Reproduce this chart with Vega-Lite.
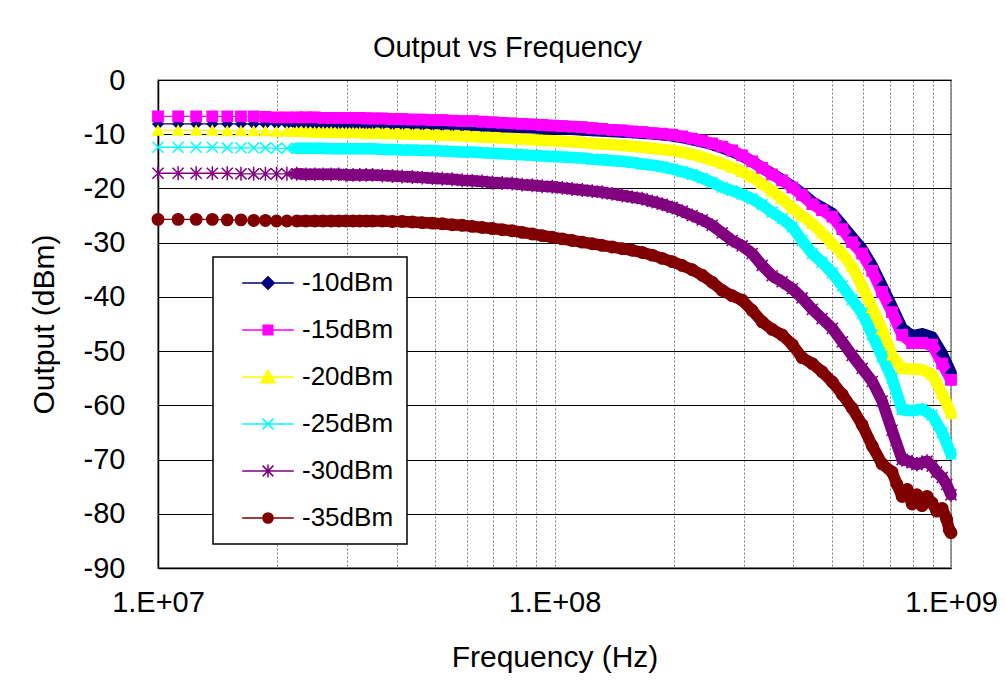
{
"$schema": "https://vega.github.io/schema/vega-lite/v6.json",
"width": 793, "height": 488,
"autosize": {"type": "none"},
"padding": {"left": 158, "top": 80, "right": 54, "bottom": 113},
"background": "white",
"title": {"text": "Output vs Frequency", "fontSize": 29, "fontWeight": "normal", "font": "Liberation Sans", "color": "black", "anchor": "middle", "frame": "group", "dx": -47, "offset": -20, "baseline": "alphabetic"},
"data": {"values": [
{"f":1e7,"s":"-10dBm","v":-8.1},{"f":1.124e7,"s":"-10dBm","v":-8.1},{"f":1.248e7,"s":"-10dBm","v":-8.1},{"f":1.371e7,"s":"-10dBm","v":-8.1},{"f":1.495e7,"s":"-10dBm","v":-8.1},{"f":1.619e7,"s":"-10dBm","v":-8.1},{"f":1.743e7,"s":"-10dBm","v":-8.1},{"f":1.866e7,"s":"-10dBm","v":-8.1},{"f":1.99e7,"s":"-10dBm","v":-8.1},{"f":2.114e7,"s":"-10dBm","v":-8.1},{"f":2.238e7,"s":"-10dBm","v":-8.1},{"f":2.361e7,"s":"-10dBm","v":-8.2},{"f":2.485e7,"s":"-10dBm","v":-8.2},{"f":2.609e7,"s":"-10dBm","v":-8.2},{"f":2.733e7,"s":"-10dBm","v":-8.2},{"f":2.856e7,"s":"-10dBm","v":-8.2},{"f":2.98e7,"s":"-10dBm","v":-8.2},{"f":3.104e7,"s":"-10dBm","v":-8.2},{"f":3.228e7,"s":"-10dBm","v":-8.2},{"f":3.351e7,"s":"-10dBm","v":-8.2},{"f":3.475e7,"s":"-10dBm","v":-8.2},
{"f":3.68e7,"s":"-10dBm","v":-8.2},{"f":3.9e7,"s":"-10dBm","v":-8.3},{"f":4.13e7,"s":"-10dBm","v":-8.3},{"f":4.38e7,"s":"-10dBm","v":-8.3},{"f":4.64e7,"s":"-10dBm","v":-8.4},{"f":4.92e7,"s":"-10dBm","v":-8.4},{"f":5.21e7,"s":"-10dBm","v":-8.4},{"f":5.52e7,"s":"-10dBm","v":-8.5},{"f":5.85e7,"s":"-10dBm","v":-8.5},{"f":6.2e7,"s":"-10dBm","v":-8.5},{"f":6.57e7,"s":"-10dBm","v":-8.6},{"f":6.97e7,"s":"-10dBm","v":-8.6},{"f":7.38e7,"s":"-10dBm","v":-8.7},{"f":7.82e7,"s":"-10dBm","v":-8.7},{"f":8.29e7,"s":"-10dBm","v":-8.8},{"f":8.79e7,"s":"-10dBm","v":-8.8},{"f":9.31e7,"s":"-10dBm","v":-8.9},{"f":9.87e7,"s":"-10dBm","v":-9.0},
{"f":1.046e8,"s":"-10dBm","v":-9.0},{"f":1.108e8,"s":"-10dBm","v":-9.1},{"f":1.175e8,"s":"-10dBm","v":-9.2},{"f":1.245e8,"s":"-10dBm","v":-9.3},{"f":1.319e8,"s":"-10dBm","v":-9.4},{"f":1.398e8,"s":"-10dBm","v":-9.5},{"f":1.482e8,"s":"-10dBm","v":-9.6},{"f":1.57e8,"s":"-10dBm","v":-9.7},{"f":1.664e8,"s":"-10dBm","v":-9.8},{"f":1.764e8,"s":"-10dBm","v":-9.9},{"f":1.869e8,"s":"-10dBm","v":-10.1},{"f":1.981e8,"s":"-10dBm","v":-10.3},{"f":2.099e8,"s":"-10dBm","v":-10.6},{"f":2.225e8,"s":"-10dBm","v":-11.0},{"f":2.358e8,"s":"-10dBm","v":-11.4},{"f":2.499e8,"s":"-10dBm","v":-11.9},{"f":2.648e8,"s":"-10dBm","v":-12.5},{"f":2.806e8,"s":"-10dBm","v":-13.2},{"f":2.974e8,"s":"-10dBm","v":-14.0},{"f":3.152e8,"s":"-10dBm","v":-15.0},{"f":3.34e8,"s":"-10dBm","v":-16.2},{"f":3.54e8,"s":"-10dBm","v":-17.3},{"f":3.75e8,"s":"-10dBm","v":-18.4},{"f":3.98e8,"s":"-10dBm","v":-19.6},{"f":4.21e8,"s":"-10dBm","v":-20.9},{"f":4.47e8,"s":"-10dBm","v":-22.5},{"f":4.73e8,"s":"-10dBm","v":-23.5},{"f":5.02e8,"s":"-10dBm","v":-24.6},{"f":5.32e8,"s":"-10dBm","v":-26.8},{"f":5.63e8,"s":"-10dBm","v":-29.0},{"f":5.97e8,"s":"-10dBm","v":-31.2},{"f":6.33e8,"s":"-10dBm","v":-34.3},{"f":6.7e8,"s":"-10dBm","v":-38.0},{"f":7.1e8,"s":"-10dBm","v":-41.8},{"f":7.53e8,"s":"-10dBm","v":-45.8},{"f":7.98e8,"s":"-10dBm","v":-47.2},{"f":8.45e8,"s":"-10dBm","v":-46.8},{"f":8.96e8,"s":"-10dBm","v":-47.4},{"f":9.5e8,"s":"-10dBm","v":-50.5},{"f":1e9,"s":"-10dBm","v":-54.0},

{"f":1e7,"s":"-15dBm","v":-6.7},{"f":1.124e7,"s":"-15dBm","v":-6.7},{"f":1.248e7,"s":"-15dBm","v":-6.7},{"f":1.371e7,"s":"-15dBm","v":-6.7},{"f":1.495e7,"s":"-15dBm","v":-6.7},{"f":1.619e7,"s":"-15dBm","v":-6.7},{"f":1.743e7,"s":"-15dBm","v":-6.7},{"f":1.866e7,"s":"-15dBm","v":-6.8},{"f":1.99e7,"s":"-15dBm","v":-6.9},{"f":2.114e7,"s":"-15dBm","v":-6.9},{"f":2.238e7,"s":"-15dBm","v":-6.9},{"f":2.361e7,"s":"-15dBm","v":-6.9},{"f":2.485e7,"s":"-15dBm","v":-6.9},{"f":2.609e7,"s":"-15dBm","v":-7.0},{"f":2.733e7,"s":"-15dBm","v":-7.0},{"f":2.856e7,"s":"-15dBm","v":-7.0},{"f":2.98e7,"s":"-15dBm","v":-7.0},{"f":3.104e7,"s":"-15dBm","v":-7.0},{"f":3.228e7,"s":"-15dBm","v":-7.0},{"f":3.351e7,"s":"-15dBm","v":-7.1},{"f":3.475e7,"s":"-15dBm","v":-7.1},
{"f":3.68e7,"s":"-15dBm","v":-7.1},{"f":3.9e7,"s":"-15dBm","v":-7.2},{"f":4.13e7,"s":"-15dBm","v":-7.2},{"f":4.38e7,"s":"-15dBm","v":-7.3},{"f":4.64e7,"s":"-15dBm","v":-7.3},{"f":4.92e7,"s":"-15dBm","v":-7.4},{"f":5.21e7,"s":"-15dBm","v":-7.4},{"f":5.52e7,"s":"-15dBm","v":-7.5},{"f":5.85e7,"s":"-15dBm","v":-7.6},{"f":6.2e7,"s":"-15dBm","v":-7.6},{"f":6.57e7,"s":"-15dBm","v":-7.7},{"f":6.97e7,"s":"-15dBm","v":-7.8},{"f":7.38e7,"s":"-15dBm","v":-7.9},{"f":7.82e7,"s":"-15dBm","v":-8.0},{"f":8.29e7,"s":"-15dBm","v":-8.1},{"f":8.79e7,"s":"-15dBm","v":-8.2},{"f":9.31e7,"s":"-15dBm","v":-8.3},{"f":9.87e7,"s":"-15dBm","v":-8.4},
{"f":1.046e8,"s":"-15dBm","v":-8.5},{"f":1.108e8,"s":"-15dBm","v":-8.6},{"f":1.175e8,"s":"-15dBm","v":-8.7},{"f":1.245e8,"s":"-15dBm","v":-8.9},{"f":1.319e8,"s":"-15dBm","v":-9.0},{"f":1.398e8,"s":"-15dBm","v":-9.2},{"f":1.482e8,"s":"-15dBm","v":-9.3},{"f":1.57e8,"s":"-15dBm","v":-9.5},{"f":1.664e8,"s":"-15dBm","v":-9.6},{"f":1.764e8,"s":"-15dBm","v":-9.8},{"f":1.869e8,"s":"-15dBm","v":-9.9},{"f":1.981e8,"s":"-15dBm","v":-10.1},{"f":2.099e8,"s":"-15dBm","v":-10.4},{"f":2.225e8,"s":"-15dBm","v":-10.8},{"f":2.358e8,"s":"-15dBm","v":-11.2},{"f":2.499e8,"s":"-15dBm","v":-11.7},{"f":2.648e8,"s":"-15dBm","v":-12.3},{"f":2.806e8,"s":"-15dBm","v":-13.0},{"f":2.974e8,"s":"-15dBm","v":-13.9},{"f":3.152e8,"s":"-15dBm","v":-15.0},{"f":3.34e8,"s":"-15dBm","v":-16.2},{"f":3.54e8,"s":"-15dBm","v":-17.4},{"f":3.75e8,"s":"-15dBm","v":-18.5},{"f":3.98e8,"s":"-15dBm","v":-19.8},{"f":4.21e8,"s":"-15dBm","v":-21.2},{"f":4.47e8,"s":"-15dBm","v":-22.9},{"f":4.73e8,"s":"-15dBm","v":-24.0},{"f":5.02e8,"s":"-15dBm","v":-25.2},{"f":5.32e8,"s":"-15dBm","v":-27.5},{"f":5.63e8,"s":"-15dBm","v":-29.9},{"f":5.97e8,"s":"-15dBm","v":-32.0},{"f":6.33e8,"s":"-15dBm","v":-35.2},{"f":6.7e8,"s":"-15dBm","v":-39.1},{"f":7.1e8,"s":"-15dBm","v":-42.8},{"f":7.53e8,"s":"-15dBm","v":-47.0},{"f":7.98e8,"s":"-15dBm","v":-48.5},{"f":8.45e8,"s":"-15dBm","v":-48.5},{"f":8.96e8,"s":"-15dBm","v":-48.8},{"f":9.5e8,"s":"-15dBm","v":-52.3},{"f":1e9,"s":"-15dBm","v":-55.3},

{"f":1e7,"s":"-20dBm","v":-9.3},{"f":1.124e7,"s":"-20dBm","v":-9.3},{"f":1.248e7,"s":"-20dBm","v":-9.3},{"f":1.371e7,"s":"-20dBm","v":-9.3},{"f":1.495e7,"s":"-20dBm","v":-9.4},{"f":1.619e7,"s":"-20dBm","v":-9.4},{"f":1.743e7,"s":"-20dBm","v":-9.4},{"f":1.866e7,"s":"-20dBm","v":-9.4},{"f":1.99e7,"s":"-20dBm","v":-9.5},{"f":2.114e7,"s":"-20dBm","v":-9.5},{"f":2.238e7,"s":"-20dBm","v":-9.5},{"f":2.361e7,"s":"-20dBm","v":-9.5},{"f":2.485e7,"s":"-20dBm","v":-9.6},{"f":2.609e7,"s":"-20dBm","v":-9.6},{"f":2.733e7,"s":"-20dBm","v":-9.6},{"f":2.856e7,"s":"-20dBm","v":-9.7},{"f":2.98e7,"s":"-20dBm","v":-9.7},{"f":3.104e7,"s":"-20dBm","v":-9.7},{"f":3.228e7,"s":"-20dBm","v":-9.7},{"f":3.351e7,"s":"-20dBm","v":-9.8},{"f":3.475e7,"s":"-20dBm","v":-9.8},
{"f":3.68e7,"s":"-20dBm","v":-9.8},{"f":3.9e7,"s":"-20dBm","v":-9.9},{"f":4.13e7,"s":"-20dBm","v":-9.9},{"f":4.38e7,"s":"-20dBm","v":-10.0},{"f":4.64e7,"s":"-20dBm","v":-10.0},{"f":4.92e7,"s":"-20dBm","v":-10.1},{"f":5.21e7,"s":"-20dBm","v":-10.2},{"f":5.52e7,"s":"-20dBm","v":-10.2},{"f":5.85e7,"s":"-20dBm","v":-10.3},{"f":6.2e7,"s":"-20dBm","v":-10.4},{"f":6.57e7,"s":"-20dBm","v":-10.5},{"f":6.97e7,"s":"-20dBm","v":-10.6},{"f":7.38e7,"s":"-20dBm","v":-10.7},{"f":7.82e7,"s":"-20dBm","v":-10.8},{"f":8.29e7,"s":"-20dBm","v":-10.9},{"f":8.79e7,"s":"-20dBm","v":-11.0},{"f":9.31e7,"s":"-20dBm","v":-11.1},{"f":9.87e7,"s":"-20dBm","v":-11.2},
{"f":1.046e8,"s":"-20dBm","v":-11.3},{"f":1.108e8,"s":"-20dBm","v":-11.4},{"f":1.175e8,"s":"-20dBm","v":-11.5},{"f":1.245e8,"s":"-20dBm","v":-11.7},{"f":1.319e8,"s":"-20dBm","v":-11.8},{"f":1.398e8,"s":"-20dBm","v":-11.9},{"f":1.482e8,"s":"-20dBm","v":-12.1},{"f":1.57e8,"s":"-20dBm","v":-12.2},{"f":1.664e8,"s":"-20dBm","v":-12.4},{"f":1.764e8,"s":"-20dBm","v":-12.6},{"f":1.869e8,"s":"-20dBm","v":-12.8},{"f":1.981e8,"s":"-20dBm","v":-13.0},{"f":2.099e8,"s":"-20dBm","v":-13.3},{"f":2.225e8,"s":"-20dBm","v":-13.7},{"f":2.358e8,"s":"-20dBm","v":-14.2},{"f":2.499e8,"s":"-20dBm","v":-14.8},{"f":2.648e8,"s":"-20dBm","v":-15.4},{"f":2.806e8,"s":"-20dBm","v":-16.1},{"f":2.974e8,"s":"-20dBm","v":-16.9},{"f":3.152e8,"s":"-20dBm","v":-17.9},{"f":3.34e8,"s":"-20dBm","v":-19.1},{"f":3.54e8,"s":"-20dBm","v":-20.5},{"f":3.75e8,"s":"-20dBm","v":-21.9},{"f":3.98e8,"s":"-20dBm","v":-23.6},{"f":4.21e8,"s":"-20dBm","v":-25.0},{"f":4.47e8,"s":"-20dBm","v":-26.5},{"f":4.73e8,"s":"-20dBm","v":-28.2},{"f":5.02e8,"s":"-20dBm","v":-30.2},{"f":5.32e8,"s":"-20dBm","v":-32.0},{"f":5.63e8,"s":"-20dBm","v":-34.4},{"f":5.97e8,"s":"-20dBm","v":-38.0},{"f":6.33e8,"s":"-20dBm","v":-42.0},{"f":6.7e8,"s":"-20dBm","v":-46.0},{"f":7.1e8,"s":"-20dBm","v":-50.8},{"f":7.53e8,"s":"-20dBm","v":-53.2},{"f":7.98e8,"s":"-20dBm","v":-53.3},{"f":8.45e8,"s":"-20dBm","v":-53.4},{"f":8.96e8,"s":"-20dBm","v":-54.3},{"f":9.5e8,"s":"-20dBm","v":-57.8},{"f":1e9,"s":"-20dBm","v":-61.5},

{"f":1e7,"s":"-25dBm","v":-12.4},{"f":1.124e7,"s":"-25dBm","v":-12.4},{"f":1.248e7,"s":"-25dBm","v":-12.4},{"f":1.371e7,"s":"-25dBm","v":-12.4},{"f":1.495e7,"s":"-25dBm","v":-12.5},{"f":1.619e7,"s":"-25dBm","v":-12.5},{"f":1.743e7,"s":"-25dBm","v":-12.5},{"f":1.866e7,"s":"-25dBm","v":-12.5},{"f":1.99e7,"s":"-25dBm","v":-12.6},{"f":2.114e7,"s":"-25dBm","v":-12.6},{"f":2.238e7,"s":"-25dBm","v":-12.6},{"f":2.361e7,"s":"-25dBm","v":-12.6},{"f":2.485e7,"s":"-25dBm","v":-12.6},{"f":2.609e7,"s":"-25dBm","v":-12.6},{"f":2.733e7,"s":"-25dBm","v":-12.7},{"f":2.856e7,"s":"-25dBm","v":-12.7},{"f":2.98e7,"s":"-25dBm","v":-12.7},{"f":3.104e7,"s":"-25dBm","v":-12.7},{"f":3.228e7,"s":"-25dBm","v":-12.7},{"f":3.351e7,"s":"-25dBm","v":-12.7},{"f":3.475e7,"s":"-25dBm","v":-12.7},
{"f":3.68e7,"s":"-25dBm","v":-12.8},{"f":3.9e7,"s":"-25dBm","v":-12.8},{"f":4.13e7,"s":"-25dBm","v":-12.9},{"f":4.38e7,"s":"-25dBm","v":-12.9},{"f":4.64e7,"s":"-25dBm","v":-13.0},{"f":4.92e7,"s":"-25dBm","v":-13.0},{"f":5.21e7,"s":"-25dBm","v":-13.1},{"f":5.52e7,"s":"-25dBm","v":-13.2},{"f":5.85e7,"s":"-25dBm","v":-13.3},{"f":6.2e7,"s":"-25dBm","v":-13.3},{"f":6.57e7,"s":"-25dBm","v":-13.4},{"f":6.97e7,"s":"-25dBm","v":-13.5},{"f":7.38e7,"s":"-25dBm","v":-13.6},{"f":7.82e7,"s":"-25dBm","v":-13.7},{"f":8.29e7,"s":"-25dBm","v":-13.8},{"f":8.79e7,"s":"-25dBm","v":-13.9},{"f":9.31e7,"s":"-25dBm","v":-14.0},{"f":9.87e7,"s":"-25dBm","v":-14.1},
{"f":1.046e8,"s":"-25dBm","v":-14.2},{"f":1.108e8,"s":"-25dBm","v":-14.3},{"f":1.175e8,"s":"-25dBm","v":-14.4},{"f":1.245e8,"s":"-25dBm","v":-14.6},{"f":1.319e8,"s":"-25dBm","v":-14.7},{"f":1.398e8,"s":"-25dBm","v":-14.9},{"f":1.482e8,"s":"-25dBm","v":-15.0},{"f":1.57e8,"s":"-25dBm","v":-15.2},{"f":1.664e8,"s":"-25dBm","v":-15.5},{"f":1.764e8,"s":"-25dBm","v":-15.7},{"f":1.869e8,"s":"-25dBm","v":-16.0},{"f":1.981e8,"s":"-25dBm","v":-16.4},{"f":2.099e8,"s":"-25dBm","v":-16.9},{"f":2.225e8,"s":"-25dBm","v":-17.4},{"f":2.358e8,"s":"-25dBm","v":-18.1},{"f":2.499e8,"s":"-25dBm","v":-18.9},{"f":2.648e8,"s":"-25dBm","v":-19.8},{"f":2.806e8,"s":"-25dBm","v":-20.4},{"f":2.974e8,"s":"-25dBm","v":-21.1},{"f":3.152e8,"s":"-25dBm","v":-21.9},{"f":3.34e8,"s":"-25dBm","v":-23.0},{"f":3.54e8,"s":"-25dBm","v":-24.4},{"f":3.75e8,"s":"-25dBm","v":-25.6},{"f":3.98e8,"s":"-25dBm","v":-27.1},{"f":4.21e8,"s":"-25dBm","v":-29.6},{"f":4.47e8,"s":"-25dBm","v":-32.0},{"f":4.73e8,"s":"-25dBm","v":-33.6},{"f":5.02e8,"s":"-25dBm","v":-35.6},{"f":5.32e8,"s":"-25dBm","v":-38.0},{"f":5.63e8,"s":"-25dBm","v":-40.5},{"f":5.97e8,"s":"-25dBm","v":-43.0},{"f":6.33e8,"s":"-25dBm","v":-47.0},{"f":6.7e8,"s":"-25dBm","v":-51.0},{"f":7.1e8,"s":"-25dBm","v":-55.0},{"f":7.53e8,"s":"-25dBm","v":-60.8},{"f":7.98e8,"s":"-25dBm","v":-61.0},{"f":8.45e8,"s":"-25dBm","v":-60.7},{"f":8.96e8,"s":"-25dBm","v":-61.8},{"f":9.5e8,"s":"-25dBm","v":-65.0},{"f":1e9,"s":"-25dBm","v":-69.0},

{"f":1e7,"s":"-30dBm","v":-17.2},{"f":1.124e7,"s":"-30dBm","v":-17.2},{"f":1.248e7,"s":"-30dBm","v":-17.2},{"f":1.371e7,"s":"-30dBm","v":-17.2},{"f":1.495e7,"s":"-30dBm","v":-17.2},{"f":1.619e7,"s":"-30dBm","v":-17.3},{"f":1.743e7,"s":"-30dBm","v":-17.3},{"f":1.866e7,"s":"-30dBm","v":-17.3},{"f":1.99e7,"s":"-30dBm","v":-17.3},{"f":2.114e7,"s":"-30dBm","v":-17.3},{"f":2.238e7,"s":"-30dBm","v":-17.3},{"f":2.361e7,"s":"-30dBm","v":-17.4},{"f":2.485e7,"s":"-30dBm","v":-17.4},{"f":2.609e7,"s":"-30dBm","v":-17.4},{"f":2.733e7,"s":"-30dBm","v":-17.4},{"f":2.856e7,"s":"-30dBm","v":-17.4},{"f":2.98e7,"s":"-30dBm","v":-17.5},{"f":3.104e7,"s":"-30dBm","v":-17.5},{"f":3.228e7,"s":"-30dBm","v":-17.5},{"f":3.351e7,"s":"-30dBm","v":-17.5},{"f":3.475e7,"s":"-30dBm","v":-17.5},
{"f":3.68e7,"s":"-30dBm","v":-17.6},{"f":3.9e7,"s":"-30dBm","v":-17.7},{"f":4.13e7,"s":"-30dBm","v":-17.8},{"f":4.38e7,"s":"-30dBm","v":-17.9},{"f":4.64e7,"s":"-30dBm","v":-18.0},{"f":4.92e7,"s":"-30dBm","v":-18.1},{"f":5.21e7,"s":"-30dBm","v":-18.2},{"f":5.52e7,"s":"-30dBm","v":-18.3},{"f":5.85e7,"s":"-30dBm","v":-18.5},{"f":6.2e7,"s":"-30dBm","v":-18.6},{"f":6.57e7,"s":"-30dBm","v":-18.7},{"f":6.97e7,"s":"-30dBm","v":-18.9},{"f":7.38e7,"s":"-30dBm","v":-19.0},{"f":7.82e7,"s":"-30dBm","v":-19.1},{"f":8.29e7,"s":"-30dBm","v":-19.3},{"f":8.79e7,"s":"-30dBm","v":-19.4},{"f":9.31e7,"s":"-30dBm","v":-19.6},{"f":9.87e7,"s":"-30dBm","v":-19.7},
{"f":1.046e8,"s":"-30dBm","v":-19.9},{"f":1.108e8,"s":"-30dBm","v":-20.1},{"f":1.175e8,"s":"-30dBm","v":-20.3},{"f":1.245e8,"s":"-30dBm","v":-20.5},{"f":1.319e8,"s":"-30dBm","v":-20.7},{"f":1.398e8,"s":"-30dBm","v":-21.0},{"f":1.482e8,"s":"-30dBm","v":-21.3},{"f":1.57e8,"s":"-30dBm","v":-21.6},{"f":1.664e8,"s":"-30dBm","v":-21.9},{"f":1.764e8,"s":"-30dBm","v":-22.4},{"f":1.869e8,"s":"-30dBm","v":-22.9},{"f":1.981e8,"s":"-30dBm","v":-23.5},{"f":2.099e8,"s":"-30dBm","v":-24.2},{"f":2.225e8,"s":"-30dBm","v":-25.0},{"f":2.358e8,"s":"-30dBm","v":-25.8},{"f":2.499e8,"s":"-30dBm","v":-26.8},{"f":2.648e8,"s":"-30dBm","v":-28.2},{"f":2.806e8,"s":"-30dBm","v":-29.6},{"f":2.974e8,"s":"-30dBm","v":-30.6},{"f":3.152e8,"s":"-30dBm","v":-32.0},{"f":3.34e8,"s":"-30dBm","v":-34.2},{"f":3.54e8,"s":"-30dBm","v":-36.1},{"f":3.75e8,"s":"-30dBm","v":-37.2},{"f":3.98e8,"s":"-30dBm","v":-38.5},{"f":4.21e8,"s":"-30dBm","v":-40.2},{"f":4.47e8,"s":"-30dBm","v":-42.3},{"f":4.73e8,"s":"-30dBm","v":-44.0},{"f":5.02e8,"s":"-30dBm","v":-45.8},{"f":5.32e8,"s":"-30dBm","v":-48.3},{"f":5.63e8,"s":"-30dBm","v":-50.8},{"f":5.97e8,"s":"-30dBm","v":-53.2},{"f":6.33e8,"s":"-30dBm","v":-55.6},{"f":6.7e8,"s":"-30dBm","v":-59.2},{"f":7.1e8,"s":"-30dBm","v":-64.6},{"f":7.53e8,"s":"-30dBm","v":-70.0},{"f":7.75e8,"s":"-30dBm","v":-70.2},{"f":7.98e8,"s":"-30dBm","v":-70.6},{"f":8.2e8,"s":"-30dBm","v":-70.9},{"f":8.45e8,"s":"-30dBm","v":-70.6},{"f":8.7e8,"s":"-30dBm","v":-70.3},{"f":8.96e8,"s":"-30dBm","v":-71.2},{"f":9.2e8,"s":"-30dBm","v":-72.3},{"f":9.5e8,"s":"-30dBm","v":-73.3},{"f":9.75e8,"s":"-30dBm","v":-74.6},{"f":1e9,"s":"-30dBm","v":-76.5},

{"f":1e7,"s":"-35dBm","v":-25.7},{"f":1.124e7,"s":"-35dBm","v":-25.7},{"f":1.248e7,"s":"-35dBm","v":-25.7},{"f":1.371e7,"s":"-35dBm","v":-25.7},{"f":1.495e7,"s":"-35dBm","v":-25.8},{"f":1.619e7,"s":"-35dBm","v":-25.8},{"f":1.743e7,"s":"-35dBm","v":-25.9},{"f":1.866e7,"s":"-35dBm","v":-25.9},{"f":1.99e7,"s":"-35dBm","v":-26.0},{"f":2.114e7,"s":"-35dBm","v":-26.0},{"f":2.238e7,"s":"-35dBm","v":-26.0},{"f":2.361e7,"s":"-35dBm","v":-26.0},{"f":2.485e7,"s":"-35dBm","v":-26.0},{"f":2.609e7,"s":"-35dBm","v":-26.0},{"f":2.733e7,"s":"-35dBm","v":-26.0},{"f":2.856e7,"s":"-35dBm","v":-26.0},{"f":2.98e7,"s":"-35dBm","v":-26.0},{"f":3.104e7,"s":"-35dBm","v":-26.0},{"f":3.228e7,"s":"-35dBm","v":-26.0},{"f":3.351e7,"s":"-35dBm","v":-26.0},{"f":3.475e7,"s":"-35dBm","v":-26.0},
{"f":3.68e7,"s":"-35dBm","v":-26.0},{"f":3.9e7,"s":"-35dBm","v":-26.1},{"f":4.13e7,"s":"-35dBm","v":-26.1},{"f":4.38e7,"s":"-35dBm","v":-26.2},{"f":4.64e7,"s":"-35dBm","v":-26.3},{"f":4.92e7,"s":"-35dBm","v":-26.4},{"f":5.21e7,"s":"-35dBm","v":-26.5},{"f":5.52e7,"s":"-35dBm","v":-26.7},{"f":5.85e7,"s":"-35dBm","v":-26.8},{"f":6.2e7,"s":"-35dBm","v":-27.0},{"f":6.57e7,"s":"-35dBm","v":-27.2},{"f":6.97e7,"s":"-35dBm","v":-27.4},{"f":7.38e7,"s":"-35dBm","v":-27.6},{"f":7.82e7,"s":"-35dBm","v":-27.8},{"f":8.29e7,"s":"-35dBm","v":-28.1},{"f":8.79e7,"s":"-35dBm","v":-28.4},{"f":9.31e7,"s":"-35dBm","v":-28.7},{"f":9.87e7,"s":"-35dBm","v":-29.0},
{"f":1.046e8,"s":"-35dBm","v":-29.3},{"f":1.108e8,"s":"-35dBm","v":-29.6},{"f":1.175e8,"s":"-35dBm","v":-29.9},{"f":1.245e8,"s":"-35dBm","v":-30.2},{"f":1.319e8,"s":"-35dBm","v":-30.5},{"f":1.398e8,"s":"-35dBm","v":-30.8},{"f":1.482e8,"s":"-35dBm","v":-31.1},{"f":1.57e8,"s":"-35dBm","v":-31.4},{"f":1.664e8,"s":"-35dBm","v":-31.8},{"f":1.764e8,"s":"-35dBm","v":-32.3},{"f":1.869e8,"s":"-35dBm","v":-32.9},{"f":1.981e8,"s":"-35dBm","v":-33.5},{"f":2.099e8,"s":"-35dBm","v":-34.2},{"f":2.225e8,"s":"-35dBm","v":-35.0},{"f":2.358e8,"s":"-35dBm","v":-36.0},{"f":2.499e8,"s":"-35dBm","v":-37.3},{"f":2.648e8,"s":"-35dBm","v":-38.8},{"f":2.806e8,"s":"-35dBm","v":-39.8},{"f":2.974e8,"s":"-35dBm","v":-40.6},{"f":3.152e8,"s":"-35dBm","v":-42.5},{"f":3.34e8,"s":"-35dBm","v":-44.6},{"f":3.54e8,"s":"-35dBm","v":-46.0},{"f":3.75e8,"s":"-35dBm","v":-47.0},{"f":3.98e8,"s":"-35dBm","v":-48.8},{"f":4.21e8,"s":"-35dBm","v":-51.2},{"f":4.47e8,"s":"-35dBm","v":-52.3},{"f":4.73e8,"s":"-35dBm","v":-53.8},{"f":5.02e8,"s":"-35dBm","v":-55.7},{"f":5.32e8,"s":"-35dBm","v":-58.0},{"f":5.63e8,"s":"-35dBm","v":-60.5},{"f":5.97e8,"s":"-35dBm","v":-63.6},{"f":6.33e8,"s":"-35dBm","v":-67.5},{"f":6.7e8,"s":"-35dBm","v":-70.8},{"f":7.1e8,"s":"-35dBm","v":-72.3},{"f":7.3e8,"s":"-35dBm","v":-74.5},{"f":7.53e8,"s":"-35dBm","v":-76.8},{"f":7.75e8,"s":"-35dBm","v":-75.5},{"f":7.98e8,"s":"-35dBm","v":-78.2},{"f":8.2e8,"s":"-35dBm","v":-76.5},{"f":8.45e8,"s":"-35dBm","v":-78.5},{"f":8.7e8,"s":"-35dBm","v":-76.8},{"f":8.96e8,"s":"-35dBm","v":-78.0},{"f":9.2e8,"s":"-35dBm","v":-79.5},{"f":9.5e8,"s":"-35dBm","v":-79.0},{"f":9.75e8,"s":"-35dBm","v":-81.0},{"f":9.9e8,"s":"-35dBm","v":-83.0},{"f":1e9,"s":"-35dBm","v":-83.5}
]},
"encoding": {
  "x": {"field": "f", "type": "quantitative", "scale": {"type": "log", "domain": [1e7, 1e9], "nice": false},
        "axis": {"title": "Frequency (Hz)", "values": [1e7,2e7,3e7,4e7,5e7,6e7,7e7,8e7,9e7,1e8,2e8,3e8,4e8,5e8,6e8,7e8,8e8,9e8,1e9],
                 "labelExpr": "datum.value == 10000000 ? '1.E+07' : datum.value == 100000000 ? '1.E+08' : datum.value == 1000000000 ? '1.E+09' : ''",
                 "labelOverlap": false, "labelBound": false, "labelFlush": false, "labelPadding": 20, "titlePadding": 25,
                 "grid": true, "gridColor": "#7f7f7f", "gridDash": [2, 2], "gridWidth": 1, "ticks": false,
                 "domainColor": "black", "domainWidth": 1.5}},
  "y": {"field": "v", "type": "quantitative", "scale": {"domain": [-90, 0], "nice": false},
        "axis": {"title": "Output (dBm)", "values": [-90,-80,-70,-60,-50,-40,-30,-20,-10,0],
                 "labelExpr": "'' + datum.value", "labelPadding": 33, "titlePadding": 24,
                 "grid": true, "gridColor": "black", "gridWidth": 1.2, "ticks": false,
                 "domainColor": "black", "domainWidth": 1.5}}
},
"layer": [
  {"mark": {"type": "trail"},
   "encoding": {
     "color": {"field": "s", "type": "nominal", "scale": {"domain": ["-10dBm","-15dBm","-20dBm","-25dBm","-30dBm","-35dBm"], "range": ["#000080","#ff00ff","#ffff00","#00ffff","#800080","#800000"]}, "legend": null},
     "size": {"field": "f", "type": "quantitative", "scale": {"type": "threshold", "domain": [21500000], "range": [1.3, 11.5]}, "legend": null},
     "order": {"field": "f", "type": "quantitative"}
   }},
  {"mark": {"type": "point", "filled": true, "opacity": 1, "strokeWidth": 1.5},
   "encoding": {
     "color": {"field": "s", "type": "nominal", "scale": {"domain": ["-10dBm","-15dBm","-20dBm","-25dBm","-30dBm","-35dBm"], "range": ["#000080","#ff00ff","#ffff00","#00ffff","#800080","#800000"]}, "legend": null},
     "stroke": {"field": "s", "type": "nominal", "scale": {"domain": ["-10dBm","-15dBm","-20dBm","-25dBm","-30dBm","-35dBm"], "range": ["#000080","#ff00ff","#ffff00","#00ffff","#800080","#800000"]}, "legend": null},
     "shape": {"field": "s", "type": "nominal", "scale": {"domain": ["-10dBm","-15dBm","-20dBm","-25dBm","-30dBm","-35dBm"], "range": ["diamond","square","triangle-up","M-1,-1L1,1M-1,1L1,-1","M-1,-1L1,1M-1,1L1,-1M0,-1.25L0,1.25","circle"]}, "legend": null},
     "size": {"field": "s", "type": "ordinal", "scale": {"domain": ["-10dBm","-15dBm","-20dBm","-25dBm","-30dBm","-35dBm"], "range": [100, 130, 170, 110, 121, 130]}, "legend": null}
   }},
  {"transform": [{"filter": "false"}],
   "mark": {"type": "point", "filled": true, "opacity": 1, "strokeWidth": 1.5, "size": 144},
   "encoding": {
     "color": {"field": "s", "type": "nominal", "scale": {"domain": ["-10dBm","-15dBm","-20dBm","-25dBm","-30dBm","-35dBm"], "range": ["#000080","#ff00ff","#ffff00","#00ffff","#800080","#800000"]}, "legend": {"title": null}},
     "stroke": {"field": "s", "type": "nominal", "scale": {"domain": ["-10dBm","-15dBm","-20dBm","-25dBm","-30dBm","-35dBm"], "range": ["#000080","#ff00ff","#ffff00","#00ffff","#800080","#800000"]}, "legend": {"title": null}},
     "shape": {"field": "s", "type": "nominal", "scale": {"domain": ["-10dBm","-15dBm","-20dBm","-25dBm","-30dBm","-35dBm"], "range": ["M-4.3,0H4.3M0,-1.05L1.05,0L0,1.05L-1.05,0Z","M-4.3,0H4.3M-0.8,-0.8H0.8V0.8H-0.8Z","M-4.3,0H4.3M0,-1.1L1.2,0.95H-1.2Z","M-4.3,0H4.3M-0.9,-0.9L0.9,0.9M-0.9,0.9L0.9,-0.9","M-4.3,0H4.3M-0.9,-0.9L0.9,0.9M-0.9,0.9L0.9,-0.9M0,-1.1V1.1","M-4.3,0H4.3M0.85,0A0.85,0.85,0,1,1,-0.85,0A0.85,0.85,0,1,1,0.85,0Z"]}, "legend": {"title": null}}
   }}
],
"resolve": {"scale": {"size": "independent", "color": "independent", "shape": "independent", "stroke": "independent"}},
"config": {
  "font": "Liberation Sans",
  "view": {"stroke": "#808080", "strokeWidth": 1.5},
  "axis": {"labelColor": "black", "titleColor": "black", "labelFontSize": 29, "titleFontSize": 30, "titleFontWeight": "normal", "labelFont": "Liberation Sans", "titleFont": "Liberation Sans"},
  "legend": {
    "orient": "none", "legendX": 55, "legendY": 177,
    "strokeColor": "black", "strokeWidth": 1.5, "fillColor": "white", "padding": 13,
    "labelFont": "Liberation Sans", "labelFontSize": 26, "labelColor": "black",
    "symbolSize": 144, "symbolStrokeWidth": 1.5, "symbolOffset": 29, "labelOffset": 21, "rowPadding": 21
  }
}
}
